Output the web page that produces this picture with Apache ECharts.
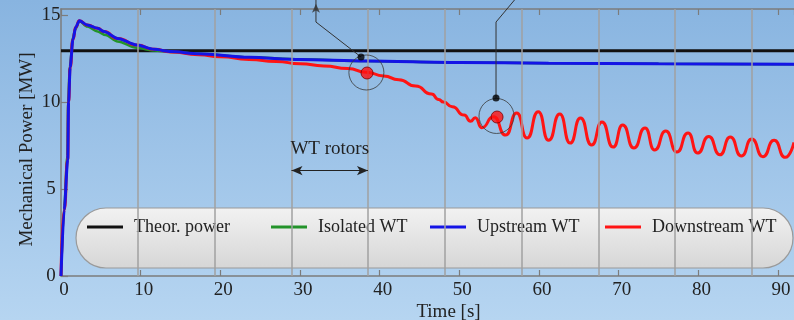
<!DOCTYPE html>
<html><head><meta charset="utf-8">
<script src="https://cdn.jsdelivr.net/npm/echarts@6/dist/echarts.min.js"></script>
<style>html,body{margin:0;padding:0;}#c{width:794px;height:320px;background:linear-gradient(#88b4e0,#b6d5f1);}</style>
</head><body><div id="c"></div><script>
// ---- data ----
const theorTime = [0, 92];
const theorPower = [12.95, 12.95];

const isoTime = [0, 0.4, 0.8, 0.9, 1.1, 1.5, 1.8, 2.3, 3.3, 4.6, 5.6, 7.1, 9.5, 11.7, 14, 17.3, 23.6, 30, 38.3, 50, 61.2, 75, 92];
const isolated = [0, 4.0, 6.9, 10, 12, 13.7, 14.2, 14.66, 14.34, 14.05, 13.85, 13.48, 13.12, 12.96, 12.88, 12.78, 12.57, 12.46, 12.36, 12.28, 12.23, 12.2, 12.18];

const upTime = [0, 0.4, 0.85, 0.95, 1.15, 1.5, 1.85, 2.3, 3.3, 4.6, 5.4, 7.1, 9.5, 11.7, 13.8, 17.3, 23.6, 30, 38.3, 50, 61.2, 75, 92];
const upstream = [0, 3.8, 6.7, 10, 12, 13.6, 14.3, 14.68, 14.43, 14.24, 14.05, 13.66, 13.28, 13.03, 12.9, 12.78, 12.57, 12.44, 12.36, 12.28, 12.23, 12.2, 12.18];

const downTime = [0, 0.4, 0.85, 0.95, 1.15, 1.5, 1.85, 2.3, 3.3, 4.6, 5.4, 7.1, 9.5, 11.7, 13.8,
  17.3, 20, 23.6, 27, 30, 33, 36, 38.3, 40.5, 42.4, 44.5, 46.5, 47.4, 48, 49.1, 50.6, 51.4, 52.0, 52.8, 54.3, 55.8,
  57.2, 58.5, 59.9, 61.2, 62.6, 63.9, 65.2, 66.6, 67.9, 69.3, 70.5, 71.9, 73.3, 74.5, 75.9, 77.3, 78.7, 79.9,
  81.3, 82.7, 84.0, 85.4, 86.7, 88.1, 89.5, 90.9, 92];
const downstream = [0, 3.8, 6.7, 10, 12, 13.6, 14.3, 14.68, 14.43, 14.24, 14.05, 13.66, 13.28, 13.03, 12.88,
  12.72, 12.6, 12.45, 12.33, 12.2, 12.08, 11.93, 11.72, 11.5, 11.28, 10.92, 10.46, 10.15, 10.0, 9.73, 9.25, 8.9, 9.1, 8.53, 9.15, 8.1,
  9.37, 7.93, 9.45, 7.8, 9.31, 7.64, 9.08, 7.53, 8.85, 7.41, 8.68, 7.36, 8.51, 7.24, 8.33, 7.13, 8.22, 7.07,
  8.02, 6.97, 7.99, 6.9, 7.87, 6.86, 7.8, 6.82, 7.68];

const rotorLines = [9.66, 19.33, 28.93, 38.53, 48.2, 57.86, 67.47, 77.07, 86.73];
const rotorSpan = [28.93, 38.53, 6.06];
const rotorText = 'WT rotors';

const blackDots = [[37.66, 12.59], [54.6, 10.24]];
const redDots = [[38.41, 11.67], [54.73, 9.14]];
const circles = [[38.33, 11.7], [54.66, 9.2]];
const leaderA = [[37.66, 12.59], [32.0, 14.6], [32.0, 15.9]];
const leaderB = [[54.6, 10.24], [54.6, 14.6], [56.98, 15.9]];
const arrowTip = [[32.0, 15.65]];

const names = ['Theor. power', 'Isolated WT', 'Upstream WT', 'Downstream WT'];
const colors = ['#111111', '#23932a', '#1414e6', '#ff1414'];
const yName = 'Mechanical Power [MW]';
const xName = 'Time [s]';

const zip = (a, b) => a.map((v, i) => [v, b[i]]);
const FONT = 'Liberation Serif';

const chart = echarts.init(document.getElementById('c'), null, {renderer: 'canvas'});
const legendLeft = [87, 271, 430, 605];

const option = {
  backgroundColor: 'transparent',
  animation: false,
  textStyle: {fontFamily: FONT},
  grid: {left: 61, right: 0, top: 9, bottom: 44, containLabel: false, outerBoundsMode: 'none'},
  graphic: [{
    type: 'rect', z: 1, silent: true,
    shape: {x: 76, y: 208, width: 717, height: 60, r: 30},
    style: {
      fill: new echarts.graphic.LinearGradient(0, 0, 0, 1, [
        {offset: 0, color: '#f2f2f2'}, {offset: 1, color: '#d6d6d6'}]),
      stroke: '#9a9a9a', lineWidth: 1.2
    }
  }],
  legend: names.map((n, i) => ({
    data: [n], left: legendLeft[i], top: 218, padding: 0, itemGap: 0,
    itemWidth: 36, itemHeight: 3, icon: 'rect', selectedMode: false, z: 5,
    textStyle: {fontFamily: FONT, fontSize: 18, color: '#222', padding: [0, 0, 0, 6]}
  })),
  xAxis: [{
    type: 'value', min: 0, max: 92, interval: 10, position: 'bottom',
    name: xName, nameLocation: 'middle', nameGap: 27, nameMoveOverlap: false,
    nameTextStyle: {fontFamily: FONT, fontSize: 19, color: '#222', padding: [0, 0, 0, 42]},
    axisLine: {lineStyle: {color: '#7c7c7c', width: 1.5}},
    axisTick: {inside: true, length: 6, lineStyle: {color: '#7c7c7c', width: 1.2}},
    axisLabel: {fontFamily: FONT, fontSize: 19, color: '#222', margin: 5, showMaxLabel: false, padding: [0, 0, 0, 6]},
    splitLine: {show: false}
  }, {
    type: 'value', min: 0, max: 92, interval: 10, position: 'top',
    axisLine: {show: true, lineStyle: {color: '#7c7c7c', width: 1.5}},
    axisTick: {show: true, inside: true, length: 6, lineStyle: {color: '#7c7c7c', width: 1.2}},
    axisLabel: {show: false}, splitLine: {show: false}
  }],
  yAxis: {
    type: 'value', min: 0, max: 15.35, interval: 5,
    name: yName, nameLocation: 'middle', nameGap: 24, nameMoveOverlap: false,
    nameTextStyle: {fontFamily: FONT, fontSize: 19, color: '#222', padding: [0, 14, 0, 0]},
    axisLine: {show: true, lineStyle: {color: '#7c7c7c', width: 1.5}},
    axisTick: {show: true, inside: true, length: 7, lineStyle: {color: '#7c7c7c', width: 1.2}},
    axisLabel: {fontFamily: FONT, fontSize: 19, color: '#222', margin: 10, showMaxLabel: false,
      align: 'center', formatter: v => String(v)},
    splitLine: {show: false}
  },
  series: [
    {name: names[0], type: 'line', data: zip(theorTime, theorPower), symbol: 'none', z: 3,
      lineStyle: {color: colors[0], width: 3}, itemStyle: {color: colors[0]}},
    {name: names[1], type: 'line', data: zip(isoTime, isolated), symbol: 'none', smooth: 0.3, smoothMonotone: 'x', z: 3,
      lineStyle: {color: colors[1], width: 2.5}, itemStyle: {color: colors[1]}},
    {name: names[3], type: 'line', data: zip(downTime, downstream), symbol: 'none', smooth: 0.6, smoothMonotone: 'x', z: 3,
      lineStyle: {color: colors[3], width: 3}, itemStyle: {color: colors[3]}},
    {name: names[2], type: 'line', data: zip(upTime, upstream), symbol: 'none', smooth: 0.3, smoothMonotone: 'x', z: 3,
      lineStyle: {color: colors[2], width: 3}, itemStyle: {color: colors[2]}},
    {name: 'rotors', type: 'line', data: [], z: 8, silent: true,
      markLine: {silent: true, symbol: 'none', label: {show: false},
        lineStyle: {color: '#a0a0a0', width: 1.5, type: 'solid'},
        data: rotorLines.map(x => ({xAxis: x}))}},
    {name: 'span', type: 'line', data: [], z: 8, silent: true,
      markLine: {silent: true, symbol: ['arrow', 'arrow'], symbolSize: [7, 11],
        lineStyle: {color: '#222', width: 1, type: 'solid'},
        label: {show: true, position: 'insideMiddleTop', distance: 12, formatter: rotorText,
          fontFamily: FONT, fontSize: 19, color: '#222'},
        data: [[{coord: [rotorSpan[0], rotorSpan[2]]}, {coord: [rotorSpan[1], rotorSpan[2]]}]]}},
    {name: 'leaderA', type: 'line', data: leaderA, symbol: 'none', clip: false, z: 9, silent: true,
      lineStyle: {color: '#333', width: 1}},
    {name: 'leaderB', type: 'line', data: leaderB, symbol: 'none', clip: false, z: 9, silent: true,
      lineStyle: {color: '#333', width: 1}},
    {name: 'arrow', type: 'scatter', data: arrowTip, symbol: 'arrow', symbolSize: [6, 9], clip: false, z: 9, silent: true,
      itemStyle: {color: '#333'}},
    {name: 'circles', type: 'scatter', data: circles, symbol: 'circle', symbolSize: 35, z: 9, silent: true,
      itemStyle: {color: 'rgba(0,0,0,0)', borderColor: '#3a3a3a', borderWidth: 1}},
    {name: 'blackDots', type: 'scatter', data: blackDots, symbol: 'circle', symbolSize: 7, z: 10, silent: true,
      itemStyle: {color: '#000'}},
    {name: 'redDots', type: 'scatter', data: redDots, symbol: 'circle', symbolSize: 12, z: 10, silent: true,
      itemStyle: {color: '#ff1010', borderColor: '#7a0000', borderWidth: 1}}
  ]
};
chart.setOption(option);
</script></body></html>
